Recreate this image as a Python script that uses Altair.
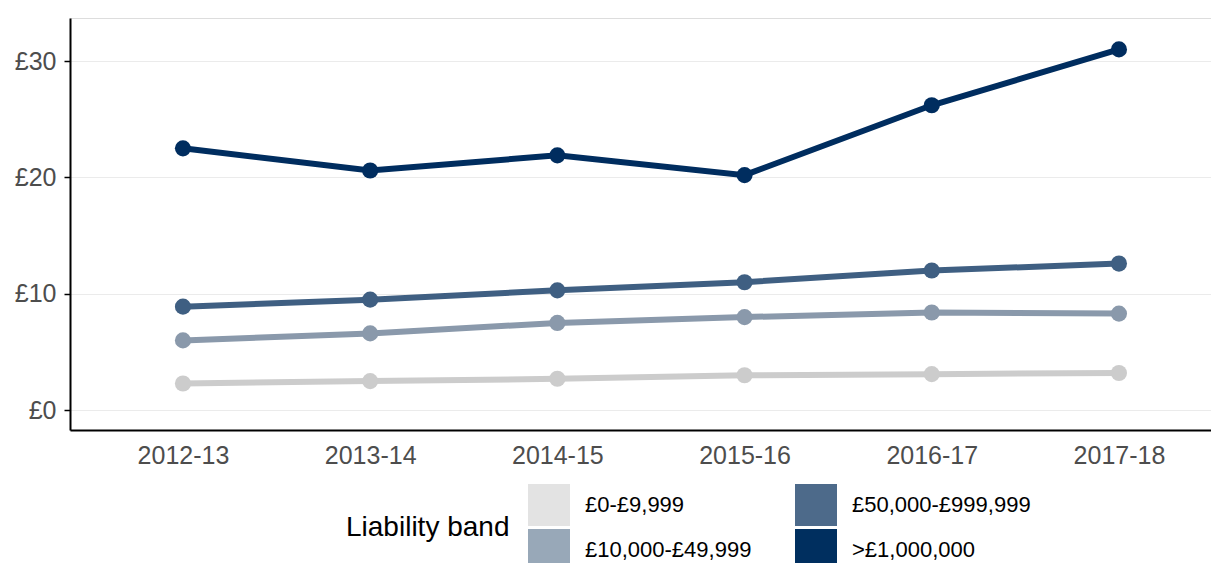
import altair as alt
import pandas as pd

years = ["2012-13", "2013-14", "2014-15", "2015-16", "2016-17", "2017-18"]
bands = ["£0-£9,999", "£10,000-£49,999", "£50,000-£999,999", ">£1,000,000"]
band_0 = [2.3, 2.5, 2.7, 3.0, 3.1, 3.2]
band_10k = [6.0, 6.6, 7.5, 8.0, 8.4, 8.3]
band_50k = [8.9, 9.5, 10.3, 11.0, 12.0, 12.6]
band_1m = [22.5, 20.6, 21.9, 20.2, 26.2, 31.0]
line_colors = ["#cccccc", "#8a99ab", "#3f5f82", "#002d5f"]
legend_colors = ["#e3e3e3", "#98a8b8", "#4d6a8a", "#002f5f"]

series = [band_0, band_10k, band_50k, band_1m]
rows = []
for b, vals in zip(bands, series):
    for y, v in zip(years, vals):
        rows.append({"year": y, "band": b, "value": v})
df = pd.DataFrame(rows)

# legend order: column-major fill in a 2-column grid
legend_order = [bands[0], bands[2], bands[1], bands[3]]
legend_range = [legend_colors[0], legend_colors[2], legend_colors[1], legend_colors[3]]

x = alt.X("year:O", sort=years, title=None,
          scale=alt.Scale(type="point", padding=0.5476, align=0.551),
          axis=alt.Axis(labelAngle=0, ticks=False, domainColor="black", domainWidth=2,
                        labelFontSize=25, labelColor="#4d4d4d", labelPadding=13, grid=False))
y = alt.Y("value:Q", title=None,
          scale=alt.Scale(domain=[-1.7, 33.7], nice=False, zero=False),
          axis=alt.Axis(values=[0, 10, 20, 30], labelExpr="'£' + datum.value",
                        domainColor="black", domainWidth=2, tickColor="black", tickSize=6,
                        tickWidth=1.5, labelFontSize=25, labelColor="#4d4d4d", labelPadding=8,
                        grid=True, gridColor="#ebebeb", gridWidth=1))

color = alt.Color("band:N", scale=alt.Scale(domain=bands, range=line_colors), legend=None)

base = alt.Chart(df)
lines = base.mark_line(strokeWidth=6).encode(x=x, y=y, color=color)
points = base.mark_circle(size=260, opacity=1).encode(x=x, y=y, color=color)
legend_layer = base.mark_square(opacity=0, size=10).encode(
    x=x, y=y,
    fill=alt.Fill("band:N", scale=alt.Scale(domain=legend_order, range=legend_range),
                  legend=alt.Legend(title="Liability band", orient="none",
                                    legendX=276, legendY=466, columns=2,
                                    direction="horizontal",
                                    titleOrient="left", titleFontSize=28,
                                    titleFontWeight="normal", titleColor="black",
                                    titlePadding=18, titleAnchor="middle",
                                    labelFontSize=22, labelColor="black",
                                    labelOffset=15, symbolType="square",
                                    symbolSize=1764, symbolOpacity=1,
                                    symbolStrokeWidth=0, rowPadding=3,
                                    columnPadding=43, labelLimit=300)))

chart = (alt.layer(lines, points, legend_layer)
         .resolve_scale(color="independent")
         .properties(width=1141, height=412,
                     autosize=alt.AutoSizeParams(type="none"),
                     padding={"left": 62, "top": 10, "right": 0, "bottom": 133})
         .configure_view(stroke=None)
         .configure(font="Liberation Sans"))

chart.save("out.html", embed_options={"renderer": "svg", "actions": False})
